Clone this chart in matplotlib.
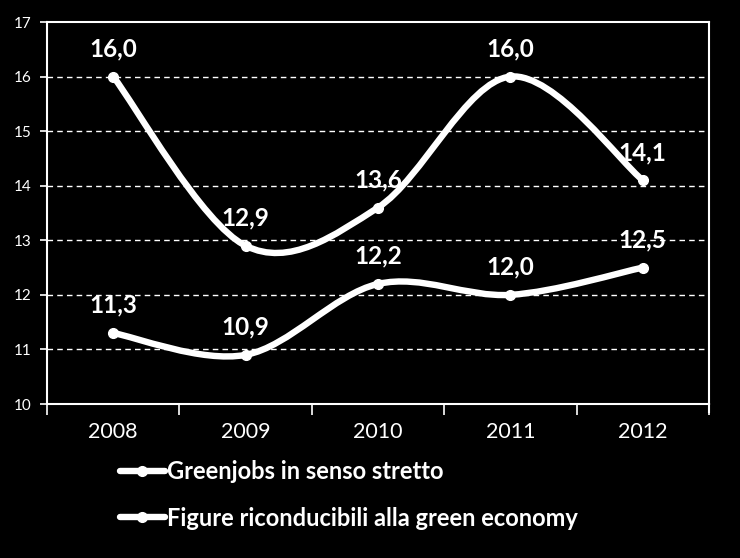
import matplotlib
matplotlib.use("Agg")
import matplotlib.pyplot as plt
from matplotlib.path import Path
from matplotlib.patches import PathPatch
from matplotlib.lines import Line2D

years = ["2008", "2009", "2010", "2011", "2012"]
greenjobs = [11.3, 10.9, 12.2, 12.0, 12.5]
figure_green = [16.0, 12.9, 13.6, 16.0, 14.1]
labels_series = ["Greenjobs in senso stretto", "Figure riconducibili alla green economy"]
yticks = [10, 11, 12, 13, 14, 15, 16, 17]

plt.rcParams['font.family'] = ['Lato', 'DejaVu Sans']

fig = plt.figure(figsize=(7.4, 5.58), dpi=100, facecolor='black')
ax = fig.add_axes([47/740, 1-404/558, (709-47)/740, (404-22)/558])
ax.set_facecolor('black')

xs = [i + 0.5 for i in range(len(years))]


def smooth_path(x, y):
    pts = list(zip(x, y))
    n = len(pts)
    verts = [pts[0]]
    codes = [Path.MOVETO]
    for i in range(n - 1):
        p0 = pts[max(i - 1, 0)]
        p1 = pts[i]
        p2 = pts[i + 1]
        p3 = pts[min(i + 2, n - 1)]
        c1 = (p1[0] + (p2[0] - p0[0]) / 6, p1[1] + (p2[1] - p0[1]) / 6)
        c2 = (p2[0] - (p3[0] - p1[0]) / 6, p2[1] - (p3[1] - p1[1]) / 6)
        verts += [c1, c2, p2]
        codes += [Path.CURVE4] * 3
    return Path(verts, codes)


lw = 4.6
for series in (greenjobs, figure_green):
    patch = PathPatch(smooth_path(xs, series), facecolor='none', edgecolor='white',
                      lw=lw, capstyle='round', joinstyle='round', zorder=3)
    ax.add_patch(patch)
    ax.plot(xs, series, linestyle='none', marker='o', ms=7, color='white',
            mec='white', zorder=4)
    for x, v in zip(xs, series):
        ax.annotate(f"{v:.1f}".replace('.', ','), (x, v), xytext=(0, 20),
                    textcoords='offset points', ha='center', va='center',
                    color='white', fontsize=17.5, fontweight='bold', zorder=5)

ax.set_xlim(0, len(years))
ax.set_ylim(10, 17)
ax.set_yticks(yticks)
ax.set_yticklabels([str(t) for t in yticks])
ax.set_xticks(range(len(years) + 1))
ax.set_xticklabels([])
ax.set_xticks(xs, minor=True)
ax.set_xticklabels(years, minor=True)
ax.tick_params(axis='x', which='major', length=8, width=1.2, color='white', direction='out')
ax.tick_params(axis='x', which='minor', length=0, pad=13, labelsize=15.5, labelcolor='white')
ax.tick_params(axis='y', length=5, width=1.2, color='white', labelsize=11,
               labelcolor='white', pad=6)
for s in ax.spines.values():
    s.set_color('white')
    s.set_linewidth(1.5)
for t in yticks[1:-1]:
    ax.axhline(t, color='white', lw=1.0, ls=(0, (4, 3)), zorder=1)

# extend right spine downward like a tick
ax.plot([1, 1], [0, -8/382], transform=ax.transAxes, color='white', lw=1.5, clip_on=False)

handles = [Line2D([], [], color='white', lw=lw, marker='o', ms=7, solid_capstyle='round')
           for _ in labels_series]
leg = fig.legend(handles, labels_series, loc='upper left',
                 bbox_to_anchor=(120/740, 1-460/558), frameon=False,
                 fontsize=17, handlelength=1.9, handletextpad=0.1,
                 labelspacing=1.0, borderpad=0, borderaxespad=0)
for t in leg.get_texts():
    t.set_color('white')
    t.set_fontweight('bold')

fig.savefig('out.png', dpi=100, facecolor='black')
